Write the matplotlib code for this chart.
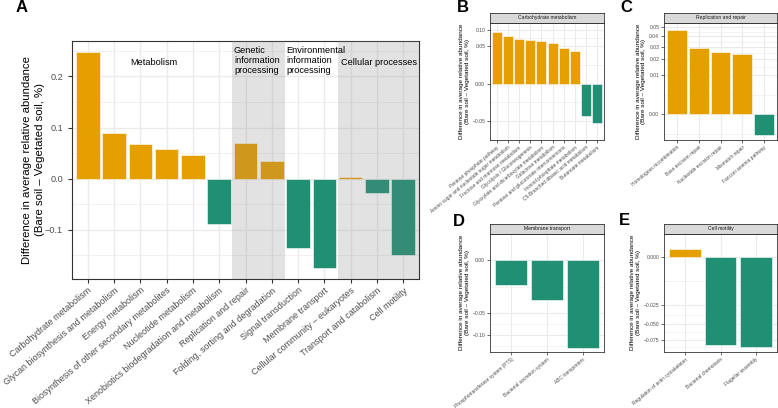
import numpy as np
import matplotlib
matplotlib.use("Agg")
import matplotlib.pyplot as plt
from matplotlib.patches import Rectangle

# Panel A: KEGG level 2 categories
cats_a = ["Carbohydrate metabolism", "Glycan biosynthesis and metabolism", "Energy metabolism",
          "Biosynthesis of other secondary metabolites", "Nucleotide metabolism",
          "Xenobiotics biodegradation and metabolism", "Replication and repair",
          "Folding, sorting and degradation", "Signal transduction", "Membrane transport",
          "Cellular community \u2013 eukaryotes", "Transport and catabolism", "Cell motility"]
vals_a = [0.248, 0.0897, 0.0676, 0.0571, 0.0468, -0.0877, 0.0696, 0.0351,
          -0.136, -0.175, 0.0025, -0.0287, -0.150]

# Panel B: Carbohydrate metabolism
cats_b = ["Pentose phosphate pathway", "Amino sugar and nucleotide sugar metabolism",
          "Fructose and mannose metabolism", "Glycolysis / Gluconeogenesis",
          "Glyoxylate and dicarboxylate metabolism", "Galactose metabolism",
          "Pentose and glucuronate interconversions", "Inositol phosphate metabolism",
          "C5-Branched dibasic acid metabolism", "Butanoate metabolism"]
vals_b = [0.0923, 0.0788, 0.0714, 0.0662, 0.0644, 0.0594, 0.0443, 0.0369, -0.0363, -0.0548]

# Panel C: Replication and repair
cats_c = ["Homologous recombination", "Base excision repair", "Nucleotide excision repair",
          "Mismatch repair", "Fanconi anemia pathway"]
vals_c = [0.0462, 0.0289, 0.0259, 0.0238, -0.0028]

# Panel D: Membrane transport
cats_d = ["Phosphotransferase system (PTS)", "Bacterial secretion system", "ABC transporters"]
vals_d = [-0.0114, -0.0288, -0.1355]

# Panel E: Cell motility
cats_e = ["Regulation of actin cytoskeleton", "Bacterial chemotaxis", "Flagellar assembly"]
vals_e = [0.0008, -0.0844, -0.0893]

ORANGE = "#E69F00"
GREEN = "#208F74"
GRID = "#EBEBEB"
W, H = 778, 408
ROT = 40
ylab = "Difference in average relative abundance\n(Bare soil \u2013 Vegetated soil, %)"

plt.rcParams['font.family'] = ['Liberation Sans', 'DejaVu Sans']

fig = plt.figure(figsize=(W / 100, H / 100), dpi=100)


def ax_px(x0, y0, x1, y1):
    return fig.add_axes([x0 / W, 1 - y1 / H, (x1 - x0) / W, (y1 - y0) / H])


def sq(y):
    y = np.asarray(y, dtype=float)
    return np.sign(y) * np.sqrt(np.abs(y))


def isq(y):
    y = np.asarray(y, dtype=float)
    return np.sign(y) * y ** 2


def style(ax, lw=0.8):
    for s in ax.spines.values():
        s.set_color("#333333")
        s.set_linewidth(lw)
    ax.set_axisbelow(True)


def bars(ax, vals):
    x = np.arange(len(vals))
    cols = [ORANGE if v > 0 else GREEN for v in vals]
    ax.bar(x, vals, width=0.9, color=cols, edgecolor="white", linewidth=0.4, zorder=2)
    ax.set_xlim(-0.6, len(vals) - 0.4)
    ax.set_xticks(x)


# ---------------- Panel A ----------------
ax = ax_px(72, 41, 419, 279)
style(ax)
bars(ax, vals_a)
lo, hi = min(vals_a), max(vals_a)
pad = (hi - lo) * 0.05
ax.set_ylim(lo - pad, hi + pad)
ax.set_yticks([-0.1, 0.0, 0.1, 0.2])
ax.set_yticklabels(["\u22120.1", "0.0", "0.1", "0.2"])
ax.set_yticks([-0.15, -0.05, 0.05, 0.15, 0.25], minor=True)
ax.set_xticks(np.arange(len(vals_a)))
ax.set_xticklabels(cats_a, rotation=ROT, ha="right", rotation_mode="anchor",
                   fontsize=6.45, color="#4D4D4D")
ax.tick_params(axis="y", labelsize=6.6, labelcolor="#4D4D4D", length=3, color="#333333")
ax.tick_params(axis="x", length=3, color="#333333", pad=2)
ax.tick_params(which="minor", length=0)
ax.grid(True, which="major", color=GRID, lw=1.0)
ax.grid(True, which="minor", axis="y", color=GRID, lw=0.5)
ax.set_ylabel(ylab, fontsize=8.2, labelpad=0, linespacing=1.3)
for x0, x1 in [(5.5, 7.5), (9.5, 12.6)]:
    ax.add_patch(Rectangle((x0, lo - pad), x1 - x0, hi - lo + 2 * pad,
                           facecolor="#7F7F7F", alpha=0.22, lw=0, zorder=3))
ax.text(2.5, 0.228, "Metabolism", ha="center", va="center", fontsize=6.6, zorder=4)
ax.text(5.56, 0.259, "Genetic\ninformation\nprocessing", ha="left", va="top",
        fontsize=6.6, linespacing=1.15, zorder=4)
ax.text(7.56, 0.259, "Environmental\ninformation\nprocessing", ha="left", va="top",
        fontsize=6.6, linespacing=1.15, zorder=4)
ax.text(9.62, 0.228, "Cellular processes", ha="left", va="center", fontsize=6.6, zorder=4)
fig.text(22 / W, 1 - 8 / H, "A", fontsize=12, fontweight="bold", ha="center", va="center")


# ---------------- Small panels (signed sqrt y scale) ----------------
def small_panel(box, cats, vals, title, major, labels, letter, letter_xy):
    x0, y0, x1, y1 = box
    ax = ax_px(x0, y0 + 9.5, x1, y1)
    st = ax_px(x0, y0, x1, y0 + 9.5)
    style(ax, 0.6)
    st.set_facecolor("#D9D9D9")
    for s in st.spines.values():
        s.set_color("#333333")
        s.set_linewidth(0.6)
    st.set_xticks([])
    st.set_yticks([])
    st.text(0.5, 0.5, title, ha="center", va="center", fontsize=3.6,
            color="#1A1A1A", transform=st.transAxes)

    ax.set_yscale("function", functions=(sq, isq))
    bars(ax, vals)
    t = sq(vals)
    tl, th = min(t.min(), 0), max(t.max(), 0)
    p = (th - tl) * 0.05
    ax.set_ylim(isq(tl - p), isq(th + p))
    ax.set_yticks(major)
    ax.set_yticklabels(labels)
    tm = sq(major)
    edges = np.concatenate([[tm[0] - (tm[1] - tm[0])], tm, [tm[-1] + (tm[-1] - tm[-2])]])
    mids = isq((edges[:-1] + edges[1:]) / 2)
    ax.set_yticks(mids, minor=True)
    ax.set_yticklabels([], minor=True)
    ax.set_xticklabels(cats, rotation=ROT, ha="right", rotation_mode="anchor",
                       fontsize=3.5, color="#4D4D4D")
    ax.tick_params(axis="y", labelsize=3.6, labelcolor="#4D4D4D", length=2,
                   width=0.5, color="#333333", pad=1.5)
    ax.tick_params(axis="x", length=2, width=0.5, color="#333333", pad=1.5)
    ax.tick_params(which="minor", length=0)
    ax.grid(True, which="major", color=GRID, lw=0.8)
    ax.grid(True, which="minor", axis="y", color=GRID, lw=0.4)
    ax.set_ylabel(ylab, fontsize=4.6, labelpad=2)
    fig.text(letter_xy[0] / W, 1 - letter_xy[1] / H, letter, fontsize=12,
             fontweight="bold", ha="center", va="center")


small_panel((490, 13, 604, 140), cats_b, vals_b, "Carbohydrate metabolism",
            [-0.05, 0.0, 0.05, 0.10], ["\u22120.05", "0.00", "0.05", "0.10"], "B", (463, 7))
small_panel((664, 13, 777, 140), cats_c, vals_c, "Replication and repair",
            [0.0, 0.01, 0.02, 0.03, 0.04, 0.05],
            ["0.00", "0.01", "0.02", "0.03", "0.04", "0.05"], "C", (626, 7))
small_panel((490, 224, 604, 352), cats_d, vals_d, "Membrane transport",
            [-0.10, -0.05, 0.0], ["\u22120.10", "\u22120.05", "0.00"], "D", (459, 222))
small_panel((664, 224, 777, 352), cats_e, vals_e, "Cell motility",
            [-0.075, -0.05, -0.025, 0.0], ["\u22120.075", "\u22120.050", "\u22120.025", "0.000"],
            "E", (624, 221))

fig.savefig("out.png", dpi=100)
